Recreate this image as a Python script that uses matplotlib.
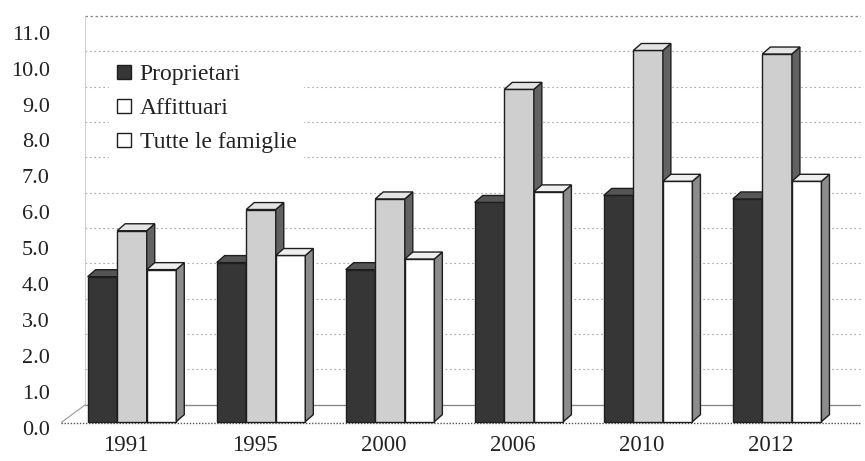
import matplotlib
matplotlib.use('Agg')
import matplotlib.pyplot as plt
from matplotlib.patches import Polygon
from matplotlib.lines import Line2D
import numpy as np

# ---- data ----
years = ['1991', '1995', '2000', '2006', '2010', '2012']
series_names = ['Proprietari', 'Affittuari', 'Tutte le famiglie']
proprietari = [4.1, 4.5, 4.3, 6.2, 6.4, 6.3]
affittuari = [5.4, 6.0, 6.3, 9.4, 10.5, 10.4]
tutte = [4.3, 4.7, 4.6, 6.5, 6.8, 6.8]
yticks = [0, 1, 2, 3, 4, 5, 6, 7, 8, 9, 10, 11]
ytick_labels = [f'{v:.1f}' for v in yticks]

# ---- style ----
plt.rcParams['font.family'] = ['Liberation Serif', 'DejaVu Serif']
front_colors = ['#363636', '#cfcfcf', '#ffffff']
side_colors = ['#2a2a2a', '#626262', '#8c8c8c']
top_colors = ['#555555', '#e4e4e4', '#efefef']
edge = '#1e1e1e'
txt = '#222222'

fig = plt.figure(figsize=(8.65, 4.61), dpi=100)
ax = fig.add_axes([0.0705, 0.0725, 0.9249, 0.9139])
ax.set_xlim(-0.55, 5.65)
ax.set_ylim(-0.1, 11.75)
for s in ax.spines.values():
    s.set_visible(False)

x = np.arange(len(years))
w = 0.229
ddx, ddy = 0.062, 0.197      # bar depth offset
wdx, wdy = 0.19, 0.48        # back wall offset
xl_wall = -0.55 + wdx

# back wall gridlines
for v in yticks:
    if v == 0:
        ax.plot([xl_wall, 5.65], [v + wdy] * 2, color='#8a8a8a', lw=1.0, zorder=1)
    elif v == 11:
        ax.plot([xl_wall, 5.65], [v + wdy] * 2, color='#888888', lw=0.9,
                ls=(0, (2, 2)), zorder=1)
    else:
        ax.plot([xl_wall, 5.65], [v + wdy] * 2, color='#a8a8a8', lw=0.8,
                ls=(0, (1.5, 2.5)), zorder=1)
# left wall edge and floor
ax.plot([xl_wall, xl_wall], [wdy, 11 + wdy], color='#d0d0d0', lw=0.7, zorder=1)
ax.plot([-0.55, xl_wall], [-0.03, wdy], color='#999999', lw=0.8, zorder=1)
ax.plot([-0.55, 5.65], [-0.03, -0.03], color='#555555', lw=1.0,
        ls=(0, (1, 1.2)), zorder=1)

# bars
all_series = [proprietari, affittuari, tutte]
for j, vals in enumerate(all_series):
    z = 3 + j
    xc = x + (j - 1) * w
    ax.bar(xc, vals, width=w, color=front_colors[j], edgecolor=edge,
           linewidth=1.0, zorder=z)
    for xi, h in zip(xc, vals):
        xl, xr = xi - w / 2, xi + w / 2
        side = Polygon([(xr, 0), (xr + ddx, ddy), (xr + ddx, h + ddy), (xr, h)],
                       closed=True, facecolor=side_colors[j], edgecolor=edge,
                       linewidth=1.0, zorder=z)
        top = Polygon([(xl, h), (xr, h), (xr + ddx, h + ddy), (xl + ddx, h + ddy)],
                      closed=True, facecolor=top_colors[j], edgecolor=edge,
                      linewidth=1.0, zorder=z)
        ax.add_patch(side)
        ax.add_patch(top)

# ticks (labels sit on the front edge of the 3D wall, slightly stretched)
ytick_pos = [(36.1 * v - 6.0) / 35.55 for v in yticks]
ax.set_yticks(ytick_pos)
ax.set_yticklabels(ytick_labels)
ax.tick_params(axis='y', length=0, pad=8, labelsize=16, colors=txt)
ax.set_xticks(x - 0.05)
ax.set_xticklabels(years)
ax.tick_params(axis='x', length=0, pad=5, labelsize=16.5, colors=txt)

# legend
handles = [Line2D([], [], marker='s', ls='none', markersize=10,
                  markerfacecolor=front_colors[0], markeredgecolor=edge),
           Line2D([], [], marker='s', ls='none', markersize=10,
                  markerfacecolor='#ffffff', markeredgecolor=edge),
           Line2D([], [], marker='s', ls='none', markersize=10,
                  markerfacecolor='#ffffff', markeredgecolor=edge)]
leg = ax.legend(handles, series_names, loc='upper left',
                bbox_to_anchor=(97 / 865, 1 - 45 / 461),
                bbox_transform=fig.transFigure, fontsize=17, frameon=True,
                facecolor='white', edgecolor='white', framealpha=1,
                handlelength=0.7, handletextpad=0.3, labelspacing=0.53,
                borderpad=0.3, fancybox=False)
leg.set_zorder(2)
for t in leg.get_texts():
    t.set_color(txt)

fig.savefig('out.png', dpi=100)
